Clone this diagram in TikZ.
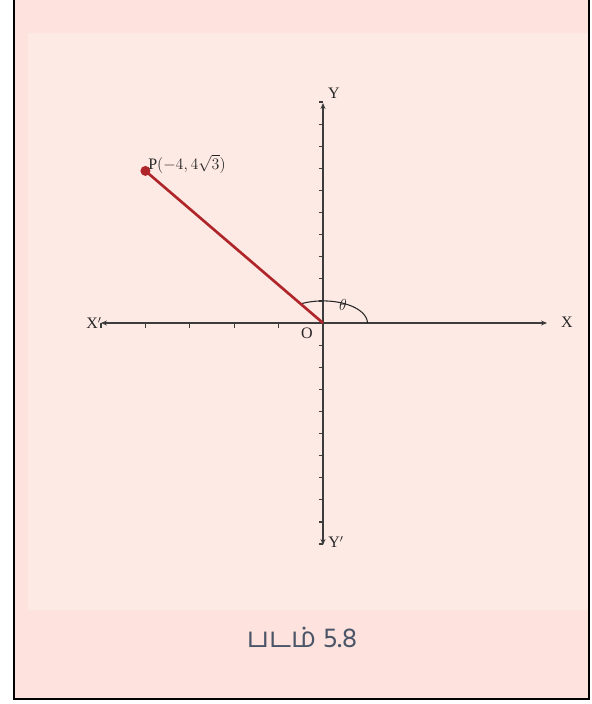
\documentclass[tikz,border=0pt]{standalone}
\usepackage{fontspec}
\setmainfont{Liberation Serif}
\newfontfamily\tamilfont[Script=Tamil]{Hind Madurai}
\usetikzlibrary{arrows.meta}
\definecolor{outerpink}{RGB}{253,226,221}
\definecolor{innerpink}{RGB}{254,234,228}
\definecolor{segred}{RGB}{175,38,42}
\definecolor{captxt}{RGB}{74,85,104}
\definecolor{axisgray}{RGB}{60,60,60}
\tikzset{
  axis/.style={draw=axisgray, line width=1.1pt, -{Stealth[length=4.5pt,width=3.8pt]}},
  tickmark/.style={draw=axisgray, line width=0.9pt},
  lbl/.style={font=\fontsize{12}{14}\selectfont, inner sep=0pt, text=black!85},
  seg/.style={draw=segred, line width=2pt},
}
\begin{document}
\begin{tikzpicture}[x=0.75pt,y=-0.75pt]
\useasboundingbox (0,0) rectangle (592,704);
\fill[white] (0,0) rectangle (592,704);
\fill[outerpink] (14,0) rectangle (589,699);
\fill[innerpink] (28,33) rectangle (588,610);
\draw[line width=2.1pt, black] (14,0) -- (14,699) -- (589,699) -- (589,0);
% origin and axis ends
\coordinate (O) at (323,323);
\coordinate (xl) at (101,323);
\coordinate (xr) at (547,323);
\coordinate (yt) at (323,103);
\coordinate (yb) at (323,545);
\coordinate (P) at (145.4,170.9);
% ticks
\foreach \k in {1,...,10}{
  \draw[tickmark] (319,{323-22.1*\k}) -- (323,{323-22.1*\k});
  \draw[tickmark] (319,{323+22.1*\k}) -- (323,{323+22.1*\k});
}
\foreach \k in {1,...,5}{
  \draw[tickmark] ({323-44.4*\k},323) -- ({323-44.4*\k},327.5);
}
% axes
\draw[axis] (O) -- (xr);
\draw[axis] (O) -- (xl);
\draw[axis] (O) -- (yt);
\draw[axis] (O) -- (yb);
% angle arc
\draw[line width=0.8pt, black!85] plot[domain=0:120, samples=50, smooth] ({323+44.4*cos(\x)},{323-22.1*sin(\x)});
% segment OP
\draw[seg] (O) -- (P);
\fill[segred] (P) circle[radius=3.75pt];
% labels
\node[lbl, anchor=west] (Plbl) at (148,164) {P$(-4,4\sqrt{3})$};
\node[lbl] (Ylbl) at (334,93) {Y};
\node[lbl] (Yplbl) at (336,542) {Y$'$};
\node[lbl] (Xplbl) at (94,323) {X$'$};
\node[lbl] (Xlbl) at (567,322) {X};
\node[lbl] (Olbl) at (307,333) {O};
\node[lbl, font=\fontsize{13}{15}\selectfont] (thlbl) at (343,305) {$\theta$};
\node[inner sep=0pt, text=captxt, font=\tamilfont\fontsize{21}{25}\selectfont] (cap) at (302,637) {படம் 5.8};
\end{tikzpicture}
\end{document}
